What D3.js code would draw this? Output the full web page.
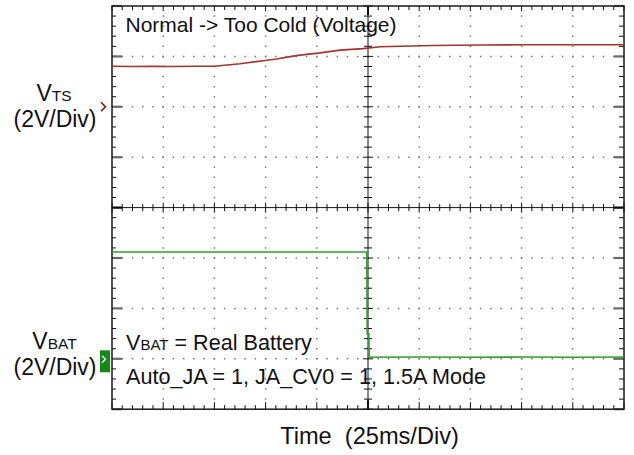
<!DOCTYPE html>
<html><head><meta charset="utf-8">
<script src="https://cdn.jsdelivr.net/npm/d3@7"></script>
<style>
html,body{margin:0;padding:0;background:#fff;}
svg{display:block;font-family:"Liberation Sans",Arial,Helvetica,sans-serif;}
</style></head>
<body><svg id="c" width="634" height="455"></svg>
<script>
// ---- data ----
const timeDomain = [0, 250];            // ms (10 div x 25 ms)
const vtsTime  = [0, 10, 20, 30, 40, 50, 62.5, 74.7, 80.4, 87.7, 91.8, 101.6, 111.3, 122.6, 130.9, 140.6, 156.7, 180, 200, 225, 250];
const vtsVolts = [1.61, 1.60, 1.61, 1.60, 1.61, 1.61, 1.71, 1.84, 1.90, 2.00, 2.05, 2.14, 2.25, 2.31, 2.38, 2.40, 2.43, 2.45, 2.46, 2.46, 2.46];
const vbatTime  = [0, 124.4, 124.6, 125.4, 125.6, 150, 175, 200, 225, 250];
const vbatVolts = [4.24, 4.24, 0.99, 0.99, 0.06, 0.07, 0.06, 0.07, 0.06, 0.07];
const vtsRange  = [-12, 4];   // volts shown (2 V/div, 8 div), ground 2 div above centre
const vbatRange = [-2, 14];   // ground 1 div above bottom
const labels = {
  title: "Normal -> Too Cold (Voltage)",
  vbatNote: " = Real Battery",
  mode: "Auto_JA = 1, JA_CV0 = 1, 1.5A Mode",
  xLabel: "Time\u00a0\u00a0(25ms/Div)",
  scale: "(2V/Div)"
};

// ---- layout ----
const L = 112, R = 624, T = 6, B = 409.2;
const svg = d3.select("#c");
const x = d3.scaleLinear().domain(timeDomain).range([L, R]);
const yDiv = d3.scaleLinear().domain([-4, 4]).range([B, T]);
const yTS = d3.scaleLinear().domain(vtsRange).range([B, T]);
const yBAT = d3.scaleLinear().domain(vbatRange).range([B, T]);

const xMinor = d3.range(0, 250.001, 5);
const xMajor = d3.range(25, 250, 25);
const yMinor = d3.range(-4, 4.001, 0.2).map(v => +v.toFixed(2));
const yMajor = d3.range(-3, 4, 1);
const divX = (R - L) / 10, divY = (B - T) / 8;

const g = svg.append("g");

// dotted grid
g.selectAll(".gv").data(xMajor.filter(d => d !== 125)).join("line")
  .attr("x1", d => x(d)).attr("x2", d => x(d)).attr("y1", T).attr("y2", B)
  .attr("stroke", "#7a7a7a").attr("stroke-width", 1.5)
  .attr("stroke-dasharray", `1.5 ${divY / 5 - 1.5}`).attr("stroke-dashoffset", 0.75);
g.selectAll(".gh").data(yMajor.filter(d => d !== 0)).join("line")
  .attr("y1", d => yDiv(d)).attr("y2", d => yDiv(d)).attr("x1", L).attr("x2", R)
  .attr("stroke", "#7a7a7a").attr("stroke-width", 1.5)
  .attr("stroke-dasharray", `1.5 ${divX / 5 - 1.5}`).attr("stroke-dashoffset", 0.75);

// centre cross lines
const cx = x(125), cy = yDiv(0);
g.append("line").attr("x1", L).attr("x2", R).attr("y1", cy).attr("y2", cy).attr("stroke", "#111").attr("stroke-width", 1);
g.append("line").attr("x1", cx).attr("x2", cx).attr("y1", T).attr("y2", B).attr("stroke", "#111").attr("stroke-width", 1);
g.selectAll(".ct").data(xMinor).join("line")
  .attr("x1", d => x(d)).attr("x2", d => x(d))
  .attr("y1", d => cy - (d % 25 === 0 ? 5 : 3.5)).attr("y2", d => cy + (d % 25 === 0 ? 5 : 3.5))
  .attr("stroke", "#111").attr("stroke-width", 1);
g.selectAll(".cu").data(yMinor).join("line")
  .attr("y1", d => yDiv(d)).attr("y2", d => yDiv(d))
  .attr("x1", d => cx - (Math.abs(d % 1) < 1e-6 ? 5 : 4)).attr("x2", d => cx + (Math.abs(d % 1) < 1e-6 ? 5 : 4))
  .attr("stroke", "#111").attr("stroke-width", 1);

// edge ticks
const isMajX = d => d % 25 === 0;
const isMajY = d => Math.abs(d - Math.round(d)) < 1e-6;
g.selectAll(".tt").data(xMinor).join("line")
  .attr("x1", d => x(d)).attr("x2", d => x(d)).attr("y1", T)
  .attr("y2", d => T + (d === 125 ? 9 : isMajX(d) ? 5 : 4))
  .attr("stroke", "#111").attr("stroke-width", d => d === 125 ? 2 : 1);
g.selectAll(".bt").data(xMinor).join("line")
  .attr("x1", d => x(d)).attr("x2", d => x(d)).attr("y1", B)
  .attr("y2", d => B - (d === 125 ? 9 : isMajX(d) ? 7 : 4))
  .attr("stroke", "#111").attr("stroke-width", d => d === 125 ? 2 : 1);
g.selectAll(".lt").data(yMinor).join("line")
  .attr("y1", d => yDiv(d)).attr("y2", d => yDiv(d)).attr("x1", L)
  .attr("x2", d => L + (isMajY(d) ? 10 : 4))
  .attr("stroke", d => d === 0 ? "#000" : isMajY(d) ? "#6a6a6a" : "#111")
  .attr("stroke-width", d => isMajY(d) ? 2.2 : 1);
g.selectAll(".rt").data(yMinor).join("line")
  .attr("y1", d => yDiv(d)).attr("y2", d => yDiv(d)).attr("x1", R)
  .attr("x2", d => R - (isMajY(d) ? 10 : 5))
  .attr("stroke", d => d === 0 ? "#000" : isMajY(d) ? "#6a6a6a" : "#111")
  .attr("stroke-width", d => isMajY(d) ? 2.2 : 1);

// frame
g.append("rect").attr("x", L).attr("y", T).attr("width", R - L).attr("height", B - T)
  .attr("fill", "none").attr("stroke", "#1a1a1a").attr("stroke-width", 1.5);

// traces
const tsData = vtsTime.map((t, i) => [t, vtsVolts[i]]);
const batData = vbatTime.map((t, i) => [t, vbatVolts[i]]);
g.append("path").datum(tsData)
  .attr("d", d3.line().x(d => x(d[0])).y(d => yTS(d[1])))
  .attr("fill", "none").attr("stroke", "#a23434").attr("stroke-width", 1.6);
g.append("path").datum(batData)
  .attr("d", d3.line().x(d => x(d[0])).y(d => yBAT(d[1])))
  .attr("fill", "none").attr("stroke", "#2f9e2f").attr("stroke-width", 1.6);

// channel markers
const gTS = yTS(0), gBAT = yBAT(0);
svg.append("polyline")
  .attr("points", `${L - 11},${gTS - 4.5} ${L - 6.5},${gTS} ${L - 11},${gTS + 4.5}`)
  .attr("fill", "none").attr("stroke", "#8b1010").attr("stroke-width", 1.5);
svg.append("rect").attr("x", L - 12).attr("y", gBAT - 8.5).attr("width", 10).attr("height", 22)
  .attr("fill", "#138a13");
svg.append("polyline")
  .attr("points", `${L - 10},${gBAT - 3} ${L - 6.5},${gBAT + 0.5} ${L - 10},${gBAT + 4}`)
  .attr("fill", "none").attr("stroke", "#fff").attr("stroke-width", 1.3);

// texts
function chanLabel(xc, yb, sub) {
  const t = svg.append("text").attr("x", xc).attr("y", yb).attr("text-anchor", "middle")
    .attr("font-size", 23).attr("fill", "#111");
  t.append("tspan").text("V");
  t.append("tspan").attr("font-size", 15.5).text(sub);
}
chanLabel(54, 100.7, "TS");
svg.append("text").attr("x", 55).attr("y", 126.7).attr("text-anchor", "middle")
  .attr("font-size", 23).attr("fill", "#111").text(labels.scale);
chanLabel(54.5, 349.3, "BAT");
svg.append("text").attr("x", 55).attr("y", 375).attr("text-anchor", "middle")
  .attr("font-size", 23).attr("fill", "#111").text(labels.scale);

svg.append("text").attr("x", 125.5).attr("y", 31.7).attr("font-size", 21).attr("fill", "#111").text(labels.title);
const vb = svg.append("text").attr("x", 126).attr("y", 350).attr("font-size", 21.6).attr("fill", "#111");
vb.append("tspan").text("V");
vb.append("tspan").attr("font-size", 15).text("BAT");
vb.append("tspan").text(labels.vbatNote);
svg.append("text").attr("x", 126).attr("y", 384.3).attr("font-size", 21.6).attr("fill", "#111").text(labels.mode);
svg.append("text").attr("x", 369.5).attr("y", 444.3).attr("text-anchor", "middle")
  .attr("font-size", 23.6).attr("fill", "#111").text(labels.xLabel);
</script></body></html>
